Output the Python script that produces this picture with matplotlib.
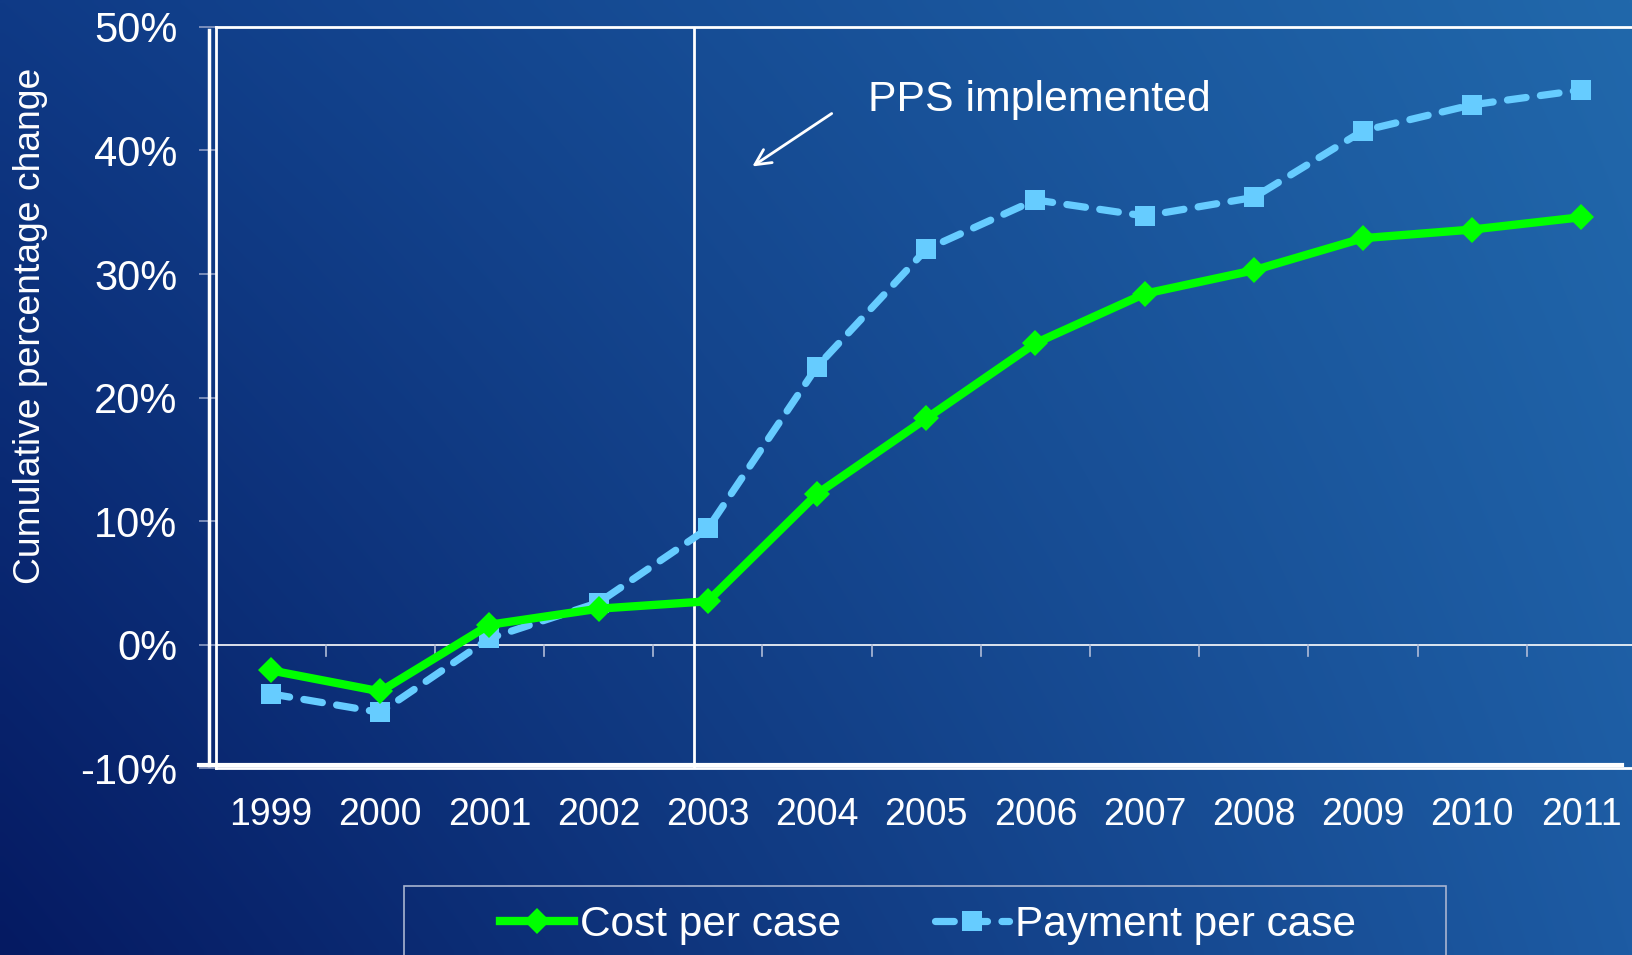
import numpy as np
import matplotlib
matplotlib.use("Agg")
import matplotlib.pyplot as plt
from matplotlib.lines import Line2D
from matplotlib.patches import Rectangle
import matplotlib.ticker as mticker

plt.rcParams['font.family'] = ['Liberation Sans', 'DejaVu Sans']

years = ['1999', '2000', '2001', '2002', '2003', '2004', '2005',
         '2006', '2007', '2008', '2009', '2010', '2011']
cost_per_case = [-2.1, -3.8, 1.6, 2.9, 3.5, 12.2, 18.3, 24.4, 28.4, 30.3, 32.9, 33.6, 34.6]
payment_per_case = [-4.0, -5.5, 0.5, 3.4, 9.4, 22.5, 32.0, 36.0, 34.7, 36.2, 41.6, 43.7, 44.9]
y_ticks = [-10, 0, 10, 20, 30, 40, 50]
pps_position = 3.87  # category position of PPS line
annotation_text = 'PPS implemented'

W, H = 1633, 955
fig = plt.figure(figsize=(W / 100, H / 100), dpi=100)

# background gradient
bg = fig.add_axes([0, 0, 1, 1], zorder=-10)
tl = np.array([15, 58, 134]) / 255
bl = np.array([5, 26, 98]) / 255
tr = np.array([33, 104, 171]) / 255
br = np.array([29, 91, 163]) / 255
nx, ny = 200, 120
u = np.linspace(0, 1, nx)[None, :, None]
v = np.linspace(0, 1, ny)[:, None, None]
img = (1 - u) * ((1 - v) * tl + v * bl) + u * ((1 - v) * tr + v * br)
bg.imshow(img, aspect='auto', extent=[0, 1, 0, 1], origin='upper', interpolation='bilinear')
bg.set_axis_off()

def fx(px):
    return px / W

def fy(py):
    return 1 - py / H

left_px, right_px, top_px, bot_px = 216.5, 1636, 27, 768
ax = fig.add_axes([fx(left_px), fy(bot_px), fx(right_px) - fx(left_px), fy(top_px) - fy(bot_px)])
ax.patch.set_alpha(0)

x = np.arange(len(years))
ax.set_xlim(-0.5, len(years) - 0.5)
ax.set_ylim(-10, 50)

ax.axhline(0, color='white', lw=1.2, zorder=2)
ax.axvline(pps_position, color='white', lw=2, zorder=2)

ax.plot(x, cost_per_case, color='#00ff00', lw=6, marker='D', markersize=13,
        markeredgewidth=0, zorder=4, label='Cost per case', solid_joinstyle='miter')
ax.plot(x, payment_per_case, color='#66ccff', lw=5.2, marker='s', markersize=15,
        markeredgewidth=0, zorder=3, label='Payment per case',
        dashes=(2.6, 2.0), dash_capstyle='round')

# category boundary ticks on the zero line
for b in np.arange(0.5, len(years) - 0.5, 1):
    ax.plot([b, b], [0, -0.9], color='#b0bcd8', lw=1.2, zorder=2)

for s in ['top', 'left', 'bottom']:
    ax.spines[s].set_color('white')
    ax.spines[s].set_linewidth(2)
ax.spines['right'].set_visible(False)

ax.set_yticks(y_ticks)
ax.yaxis.set_major_formatter(mticker.FuncFormatter(lambda v, p: f'{int(v)}%'))
ax.tick_params(axis='y', colors='#8c9cc4', length=12, width=1.2, labelsize=30,
               labelcolor='white', pad=16)
ax.set_xticks(x)
ax.set_xticklabels(years)
ax.tick_params(axis='x', length=0, labelsize=27, labelcolor='white', pad=21)

fig.text(fx(31), fy(326), 'Cumulative percentage change', rotation=90,
         ha='center', va='center', color='white', fontsize=26.8)

# annotation
fig.text(fx(868), fy(100), annotation_text, ha='left', va='center', color='white', fontsize=30.8)
ax.annotate('', xy=(fx(750), fy(168)), xycoords='figure fraction',
            xytext=(fx(834), fy(112)), textcoords='figure fraction',
            arrowprops=dict(arrowstyle='->', color='white', lw=2, mutation_scale=28))

# double frame lines
fig.add_artist(Line2D([fx(209), fx(209)], [fy(30), fy(765)], color='white', lw=2.5))
fig.add_artist(Line2D([fx(199), fx(1622)], [fy(765), fy(765)], color='white', lw=3))

# legend
fig.add_artist(Rectangle((fx(404), fy(965)), fx(1446) - fx(404), fy(886) - fy(965),
                         transform=fig.transFigure, facecolor='none',
                         edgecolor='#a8b4d0', lw=1.2))
leg = fig.legend(loc='center left', bbox_to_anchor=(fx(500), fy(925)), frameon=False,
                 ncol=2, fontsize=30.5, handlelength=1.75, handletextpad=0.15,
                 columnspacing=2.2, borderaxespad=0, borderpad=0)
for t in leg.get_texts():
    t.set_color('white')

fig.savefig('out.png', dpi=100)
